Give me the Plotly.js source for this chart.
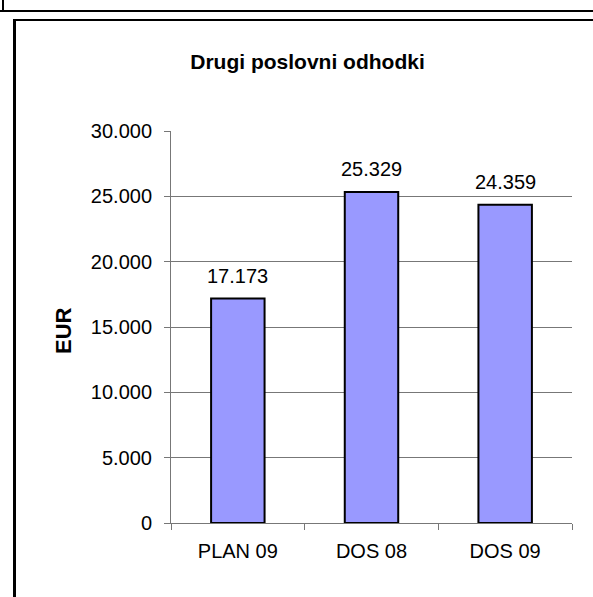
<!DOCTYPE html>
<html>
<head>
<meta charset="utf-8">
<script src="https://cdn.plot.ly/plotly-3.0.1.min.js"></script>
<style>
  html, body { margin: 0; padding: 0; background: #ffffff; }
  #chart { width: 593px; height: 597px; }
</style>
</head>
<body>
<div id="chart"></div>
<script>
// Other operating expenses, in EUR
const categories = ['PLAN 09', 'DOS 08', 'DOS 09'];
const values = [17173, 25329, 24359];
const yTickValues = [0, 5000, 10000, 15000, 20000, 25000, 30000];

const W = 593, H = 597;
const M = { l: 171, r: 21, t: 131, b: 74 };
const plotW = W - M.l - M.r;
const plotH = H - M.t - M.b;

// pixel position -> paper coordinates (used for the frame lines and the axis label)
const px = x => (x - M.l) / plotW;
const py = y => (H - M.b - y) / plotH;

// thousands separated by a dot
function fmt(v) {
  return String(Math.round(v)).replace(/\B(?=(\d{3})+(?!\d))/g, '.');
}

const font = 'Arial, "Liberation Sans", sans-serif';

const trace = {
  type: 'bar',
  x: categories,
  y: values,
  marker: { color: '#9999ff', line: { color: '#000000', width: 2 } },
  hoverinfo: 'x+y'
};

const valueLabels = categories.map((c, i) => ({
  x: c, y: values[i], xref: 'x', yref: 'y',
  text: fmt(values[i]), showarrow: false,
  yanchor: 'bottom', yshift: 10,
  font: { family: font, size: 20, color: '#000000' }
}));

const frameLine = (x0, y0, x1, y1, w) => ({
  type: 'line', xref: 'paper', yref: 'paper',
  x0: px(x0), y0: py(y0), x1: px(x1), y1: py(y1),
  line: { color: '#000000', width: w }, layer: 'above'
});

const layout = {
  width: W, height: H,
  margin: M,
  paper_bgcolor: '#ffffff',
  plot_bgcolor: '#ffffff',
  separators: ',.',
  showlegend: false,
  bargap: 0.6,
  font: { family: font, color: '#000000', size: 20 },
  title: {
    text: '<b>Drugi poslovni odhodki</b>',
    font: { family: font, size: 21, color: '#000000' },
    xref: 'container', yref: 'container',
    x: 307.5 / W, y: 1 - 62 / H,
    xanchor: 'center', yanchor: 'middle'
  },
  xaxis: {
    type: 'category',
    showgrid: false,
    showline: true, linecolor: '#777777', linewidth: 1,
    ticks: 'outside', tickson: 'boundaries', ticklen: 6,
    tickcolor: '#777777', tickwidth: 1,
    ticklabelstandoff: 10,
    tickfont: { family: font, size: 20, color: '#000000' },
    zeroline: false, fixedrange: true
  },
  yaxis: {
    range: [0, 30000],
    tickvals: yTickValues,
    ticktext: yTickValues.map(fmt),
    showgrid: true, gridcolor: '#777777', gridwidth: 1,
    showline: true, linecolor: '#777777', linewidth: 1,
    ticks: 'outside', ticklen: 6, tickcolor: '#777777', tickwidth: 1,
    ticklabelstandoff: 8,
    tickfont: { family: font, size: 20, color: '#000000' },
    zeroline: false, fixedrange: true
  },
  annotations: valueLabels.concat([{
    xref: 'paper', yref: 'paper',
    x: px(63), y: py(331),
    xanchor: 'center', yanchor: 'middle',
    text: '<b>EUR</b>', textangle: -90, showarrow: false,
    font: { family: font, size: 22, color: '#000000' }
  }]),
  shapes: [
    frameLine(0, 11, W, 11, 2),
    frameLine(3, 0, 3, 11, 2),
    frameLine(13, 20, W, 20, 2),
    frameLine(14.5, 19, 14.5, H, 3)
  ]
};

Plotly.newPlot('chart', [trace], layout, { staticPlot: true, displayModeBar: false });
</script>
</body>
</html>
